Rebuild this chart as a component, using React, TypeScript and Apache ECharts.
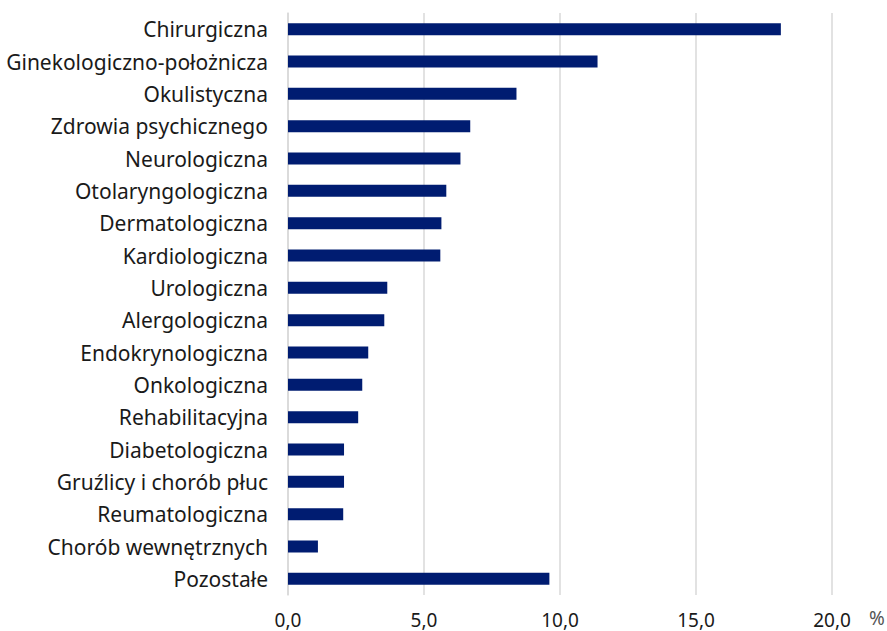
import React, { useEffect, useRef } from "react";
import * as echarts from "echarts";

const categories = [
  "Chirurgiczna",
  "Ginekologiczno-położnicza",
  "Okulistyczna",
  "Zdrowia psychicznego",
  "Neurologiczna",
  "Otolaryngologiczna",
  "Dermatologiczna",
  "Kardiologiczna",
  "Urologiczna",
  "Alergologiczna",
  "Endokrynologiczna",
  "Onkologiczna",
  "Rehabilitacyjna",
  "Diabetologiczna",
  "Gruźlicy i chorób płuc",
  "Reumatologiczna",
  "Chorób wewnętrznych",
  "Pozostałe",
];

const values = [
  18.12, 11.38, 8.4, 6.7, 6.34, 5.82, 5.64, 5.6, 3.65, 3.54, 2.95, 2.73, 2.58,
  2.06, 2.06, 2.03, 1.1, 9.61,
];

const xTicks = [0, 5, 10, 15, 20];

const FONT = "'Noto Sans', sans-serif";

export default function App() {
  const ref = useRef<HTMLDivElement>(null);
  useEffect(() => {
    if (!ref.current) return;
    const chart = echarts.init(ref.current, undefined, { renderer: "svg" });
    chart.setOption({
      animation: false,
      grid: { left: 288, right: 55, top: 13, bottom: 36, containLabel: false },
      xAxis: {
        type: "value",
        min: xTicks[0],
        max: xTicks[xTicks.length - 1],
        interval: 5,
        axisLine: { show: false },
        axisTick: { show: false },
        splitLine: { show: true, lineStyle: { color: "#d9d9d9", width: 1.5 } },
        axisLabel: {
          color: "#1a1a1a",
          fontFamily: FONT,
          fontSize: 19,
          margin: 15,
          formatter: (v: number) => v.toFixed(1).replace(".", ","),
        },
      },
      yAxis: {
        type: "category",
        data: categories,
        inverse: true,
        axisLine: { show: true, lineStyle: { color: "#d9d9d9", width: 1.5 } },
        axisTick: { show: false },
        axisLabel: {
          color: "#1a1a1a",
          fontFamily: FONT,
          fontSize: 21,
          margin: 20,
        },
      },
      series: [
        {
          type: "bar",
          data: values,
          barWidth: 12,
          itemStyle: { color: "#001c71" },
        },
      ],
      graphic: [
        {
          type: "text",
          left: 869,
          top: 608,
          style: { text: "%", fontFamily: FONT, fontSize: 19, fill: "#555" },
        },
      ],
    });
    return () => chart.dispose();
  }, []);
  return <div ref={ref} style={{ width: 887, height: 631, position: "absolute", left: 0, top: 0 }} />;
}
